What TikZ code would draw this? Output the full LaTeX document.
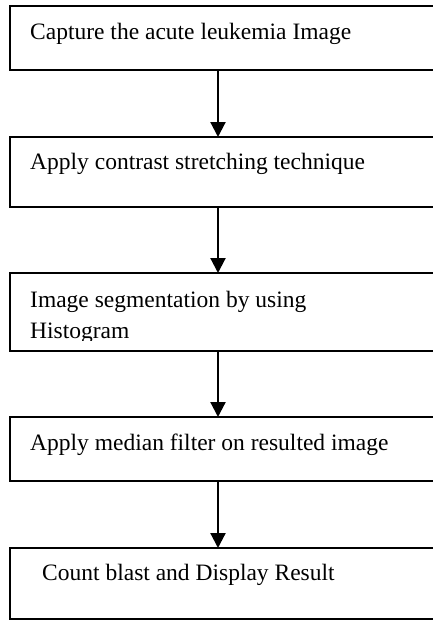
\documentclass[tikz,border=0pt]{standalone}
\usepackage{fontspec}
\setmainfont{Liberation Serif}
\usetikzlibrary{arrows.meta}
\begin{document}
\begin{tikzpicture}[x=1pt,y=-1pt,
 box/.style={draw,line width=2.2pt,inner sep=0pt,outer sep=0pt,minimum width=470pt,anchor=north west},
 lbl/.style={anchor=base west,inner sep=0pt,font=\fontsize{23.5}{31}\selectfont},
 arr/.style={line width=2.2pt,-{Triangle[width=15pt,length=15pt]}}]
\useasboundingbox (0,0) rectangle (433,621);
\clip (0,0) rectangle (433,621);
\node[box,minimum height=64pt] (b1) at (10,6) {};
\node[box,minimum height=70pt] (b2) at (10,137) {};
\node[box,minimum height=78pt] (b3) at (10,273) {};
\node[box,minimum height=64pt] (b4) at (10,417) {};
\node[box,minimum height=71pt] (b5) at (10,548) {};
\node[lbl] (t1) at (30,39) {Capture the acute leukemia Image};
\node[lbl] (t2) at (30,169) {Apply contrast stretching technique};
\node[lbl] (t3a) at (30,307) {Image segmentation by using};
\begin{scope}
\clip (20,316) rectangle (433,340.5);
\node[lbl] (t3b) at (30,338) {Histogram};
\end{scope}
\node[lbl] (t4) at (30,450) {Apply median filter on resulted image};
\node[lbl] (t5) at (42,580) {Count blast and Display Result};
\coordinate (ax) at (218,0);
\draw[arr] (b1.south -| ax) -- (b2.north -| ax);
\draw[arr] (b2.south -| ax) -- (b3.north -| ax);
\draw[arr] (b3.south -| ax) -- (b4.north -| ax);
\draw[arr] (b4.south -| ax) -- (b5.north -| ax);
\end{tikzpicture}
\end{document}
